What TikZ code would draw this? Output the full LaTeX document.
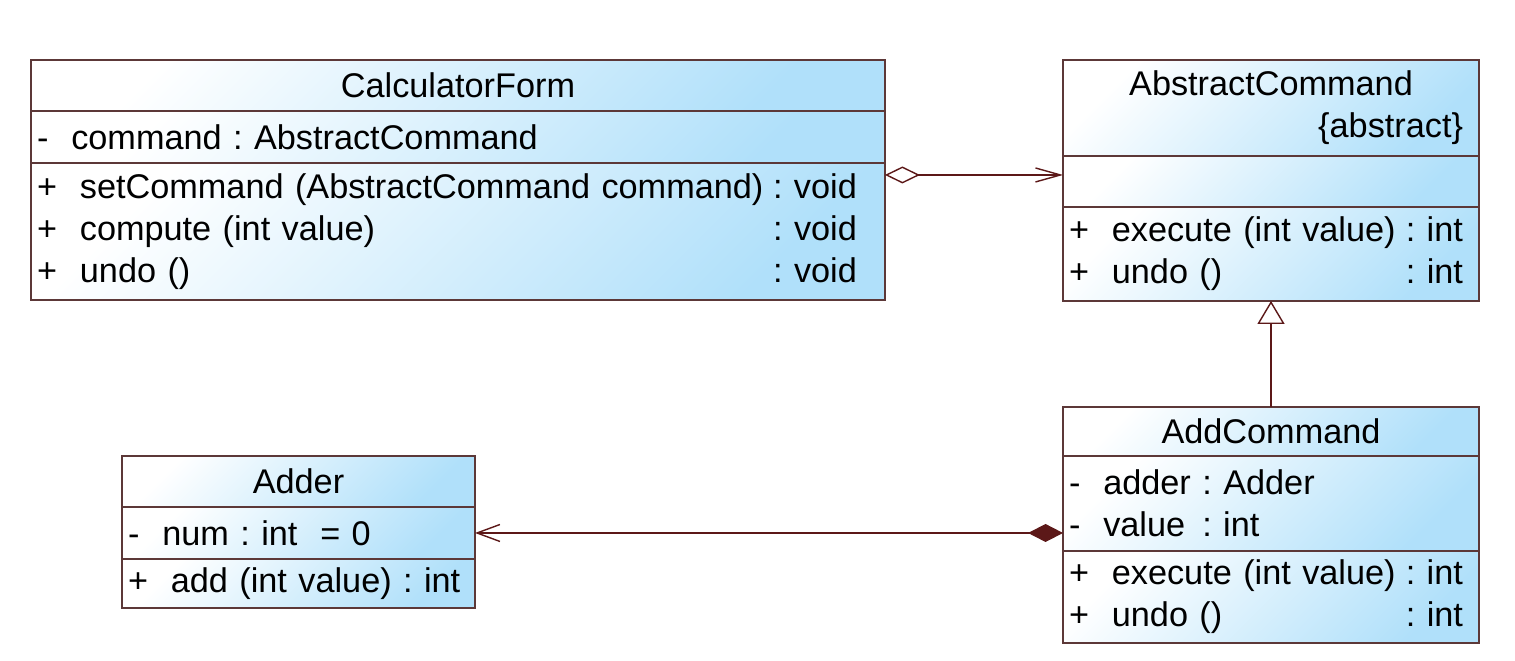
\documentclass[tikz,border=0pt]{standalone}
\usepackage{fontspec}
\setmainfont{Liberation Sans}
\usepackage{tikz}
\usetikzlibrary{positioning,arrows.meta}
\usepackage{xcolor}
\frenchspacing

\definecolor{clsblue}{RGB}{176,224,250}
\definecolor{clsline}{RGB}{92,56,56}
\definecolor{relline}{RGB}{92,24,24}

\newcommand{\umlrow}[3][0pt]{\noindent\hbox to \linewidth{#2\hfil#3\hspace*{#1}}}

\begin{document}
\begin{tikzpicture}[x=0.02cm, y=-0.02cm,
  part/.style={draw=clsline, line width=0.9pt, top color=white, bottom color=clsblue, shading angle=45,
    inner xsep=0.12cm, inner ysep=0pt, outer sep=0pt, align=left, font=\fontsize{19.5}{24}\selectfont},
  rel/.style={draw=relline, line width=0.8pt}]
  \useasboundingbox (0,0) rectangle (1515,661);

  \node[part, anchor=north, align=center, minimum height=1.02cm, text width=16.84cm] (calcName) at (458,60) {CalculatorForm};
  \node[part, below=0pt of calcName, minimum height=1.04cm, text width=16.84cm] (calcAttr) {-~~command : AbstractCommand};
  \node[part, below=0pt of calcAttr, minimum height=2.74cm, text width=16.84cm] (calcOps) {\umlrow[0.44cm]{+~~setCommand (AbstractCommand command)}{: void}\\
    \umlrow[0.44cm]{+~~compute (int value)}{: void}\\ \umlrow[0.44cm]{+~~undo ()}{: void}};

  \node[part, anchor=north, align=center, minimum height=1.92cm, text width=8.08cm] (absName) at (1271,60) {AbstractCommand\\ \umlrow[0.2cm]{}{\{abstract\}}};
  \node[part, below=0pt of absName, minimum height=1.02cm, text width=8.08cm] (absAttr) {};
  \node[part, below=0pt of absAttr, minimum height=1.88cm, text width=8.08cm] (absOps) {\umlrow[0.2cm]{+~~execute (int value)}{: int}\\ \umlrow[0.2cm]{+~~undo ()}{: int}};

  \node[part, anchor=north, align=center, minimum height=0.98cm, text width=8.08cm] (addName) at (1271,407) {AddCommand};
  \node[part, below=0pt of addName, minimum height=1.9cm, text width=8.08cm] (addAttr) {-~~adder : Adder\\ -~~value\,~: int};
  \node[part, below=0pt of addAttr, minimum height=1.84cm, text width=8.08cm] (addOps) {\umlrow[0.2cm]{+~~execute (int value)}{: int}\\ \umlrow[0.2cm]{+~~undo ()}{: int}};

  \node[part, anchor=north, align=center, minimum height=1.02cm, text width=6.82cm] (adderName) at (298.5,456) {Adder};
  \node[part, below=0pt of adderName, minimum height=1.04cm, text width=6.82cm] (adderAttr) {-~~num : int~~= 0};
  \node[part, below=0pt of adderAttr, minimum height=0.98cm, text width=6.82cm] (adderOps) {+~~add (int value) : int};

  \coordinate (aggStart) at ([yshift=1.13cm]calcOps.east);
  \draw[rel, {Diamond[open,length=0.7cm,width=0.34cm]}-{Straight Barb[length=0.5cm,width=0.28cm]}] (aggStart) -- (aggStart -| absAttr.west);
  \draw[rel, -{Triangle[open,length=0.46cm,width=0.54cm]}] (addName) -- (absOps);
  \draw[rel, {Straight Barb[length=0.46cm,width=0.34cm]}-{Diamond[length=0.7cm,width=0.36cm]}] (adderAttr.east) -- (adderAttr.east -| addAttr.west);
\end{tikzpicture}
\end{document}
